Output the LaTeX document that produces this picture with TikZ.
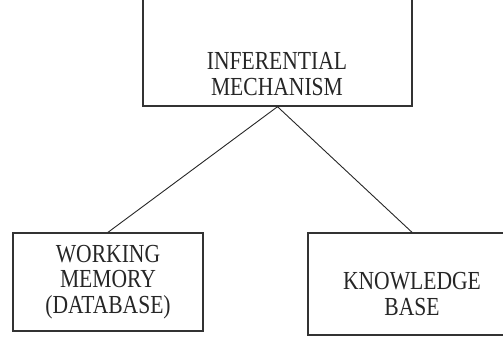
\documentclass[tikz,border=0pt]{standalone}
\usepackage{fontspec}
\setmainfont{Liberation Serif}[FakeStretch=0.83]
\usetikzlibrary{positioning}

\begin{document}
\begin{tikzpicture}[x=1pt,y=1pt,
  box/.style={draw=black!80,line width=1.4pt,inner sep=0pt},
  lbl/.style={font=\fontsize{26}{25.5}\selectfont,text=black!85,align=center},
  link/.style={black!85,line width=0.9pt}]
  \useasboundingbox (0,0) rectangle (503,338);

  % Inferential mechanism (top box, runs off the page)
  \node[box,minimum width=269,minimum height=140] (infer) at (277.5,302) {};
  \node[lbl] (inferlbl) at (277,264) {INFERENTIAL\\MECHANISM};

  % Working memory
  \node[box,lbl,minimum width=190,minimum height=98] (wm) at (108,56)
    {WORKING\\MEMORY\\(DATABASE)};

  % Knowledge base (runs off the right side)
  \node[box,minimum width=208,minimum height=102] (kb) at (412,54) {};
  \node[lbl] (kblbl) at (412,44) {KNOWLEDGE\\BASE};

  % Links
  \draw[link] (infer.south) -- (wm.north);
  \draw[link] (infer.south) -- (kb.north);
\end{tikzpicture}
\end{document}
